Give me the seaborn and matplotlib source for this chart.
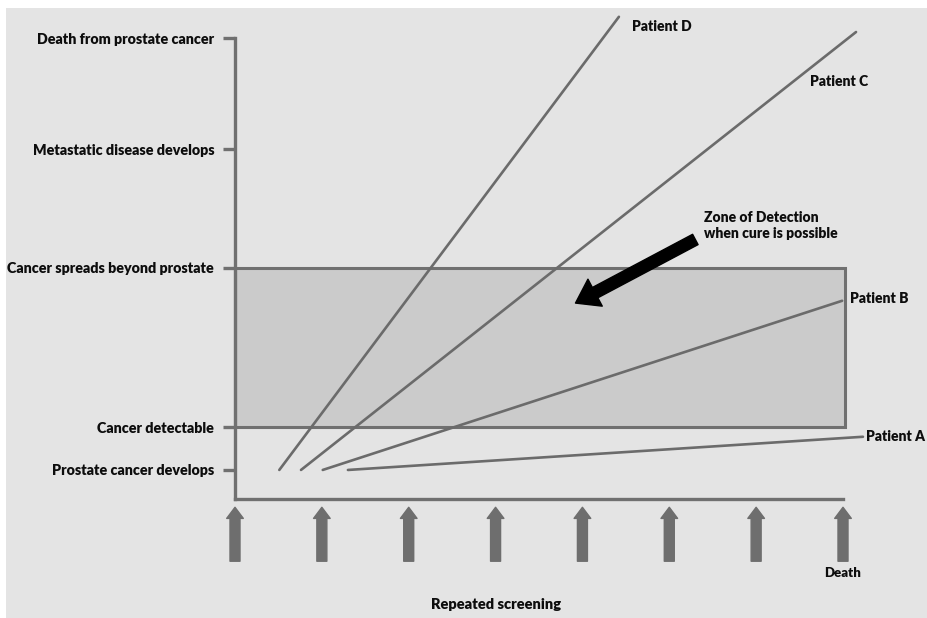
import matplotlib.pyplot as plt
import matplotlib.patches as mpatches
import seaborn as sns
import pandas as pd

# stage levels on a 0-100 "progression" scale
stage_labels = ['Prostate cancer develops', 'Cancer detectable', 'Cancer spreads beyond prostate',
                'Metastatic disease develops', 'Death from prostate cancer']
stage_levels = [6.3, 15.6, 50.2, 75.9, 100]

# screening rounds (x axis)
screens = [0, 1, 2, 3, 4, 5, 6, 7]

# patient trajectories: start / end points
patients = ['Patient A', 'Patient B', 'Patient C', 'Patient D']
x_start = [1.30, 1.01, 0.76, 0.51]
x_end = [7.23, 6.99, 7.15, 4.42]
y_start = [6.3, 6.3, 6.3, 6.3]
y_end = [13.5, 43.0, 101.3, 104.6]

GRAY = '#6b6b6b'
BG = '#e4e4e4'
TXT = '#0d0d0d'

sns.set_theme(style='white')
plt.rcParams['font.family'] = ['Lato', 'DejaVu Sans']

fig = plt.figure(figsize=(9.28, 6.18), dpi=100, facecolor=BG)
fig.patches.append(mpatches.Rectangle((0, 1 - 8 / 618), 1, 8 / 618, transform=fig.transFigure,
                                      facecolor='white', edgecolor='none', zorder=-1))
fig.patches.append(mpatches.Rectangle((0, 0), 6 / 928, 1, transform=fig.transFigure,
                                      facecolor='white', edgecolor='none', zorder=-1))
ax = fig.add_axes([235 / 928, (618 - 499) / 618, 608 / 928, 461 / 618])
ax.set_facecolor('none')
ax.set_xlim(0, 7)
ax.set_ylim(0, 100)

# zone of detection
ax.add_patch(mpatches.Rectangle((0, stage_levels[1]), 7.02, stage_levels[2] - stage_levels[1],
                                facecolor='#cbcbcb', edgecolor='#707070', linewidth=2.2, zorder=1,
                                clip_on=False))

rows = []
for p, xs, xe, ys, ye in zip(patients, x_start, x_end, y_start, y_end):
    rows.append({'patient': p, 'x': xs, 'y': ys})
    rows.append({'patient': p, 'x': xe, 'y': ye})
df = pd.DataFrame(rows)
sns.lineplot(data=df, x='x', y='y', hue='patient', palette=[GRAY] * 4, linewidth=1.9,
             legend=False, ax=ax, zorder=3)
for line in ax.lines:
    line.set_clip_on(False)

# patient labels
label_pos = {'Patient A': (7.27, 13.5), 'Patient B': (7.08, 43.5),
             'Patient C': (6.62, 90.5), 'Patient D': (4.57, 102.5)}
for p, (lx, ly) in label_pos.items():
    ax.text(lx, ly, p, fontsize=10, fontweight='heavy', ha='left', va='center', color=TXT)

# spines and ticks
sns.despine(ax=ax)
for s in ['left', 'bottom']:
    ax.spines[s].set_color('#707070')
    ax.spines[s].set_linewidth(2.4)
ax.set_xticks([])
ax.set_yticks(stage_levels)
ax.set_yticklabels(stage_labels, fontsize=10.3, fontweight='heavy', color=TXT)
ax.tick_params(axis='y', length=9, width=2.4, color='#707070', pad=6, left=True)
ax.set_xlabel('')
ax.set_ylabel('')

# screening arrows below the axis
for s in screens:
    ax.annotate('', xy=(s, -1.8), xytext=(s, -13.5), annotation_clip=False,
                arrowprops=dict(arrowstyle='simple,head_length=0.5,head_width=0.75,tail_width=0.45',
                                color='#6e6e6e', mutation_scale=16, shrinkA=0, shrinkB=0))
ax.text(7, -14.8, 'Death', fontsize=9.5, fontweight='heavy', ha='center', va='top', color=TXT)
ax.text(3, -21.5, 'Repeated screening', fontsize=10.5, fontweight='heavy', ha='center', va='top',
        color=TXT)

# zone of detection annotation
ax.annotate('', xy=(3.92, 42.5), xytext=(5.3, 56.3), annotation_clip=False,
            arrowprops=dict(arrowstyle='simple,head_length=0.8,head_width=1.1,tail_width=0.42',
                            color='black', mutation_scale=20, shrinkA=0, shrinkB=0))
ax.text(5.4, 59.3, 'Zone of Detection\nwhen cure is possible', fontsize=10, fontweight='heavy',
        ha='left', va='center', linespacing=1.3, color=TXT)

fig.savefig('out.png', dpi=100, facecolor=BG)
